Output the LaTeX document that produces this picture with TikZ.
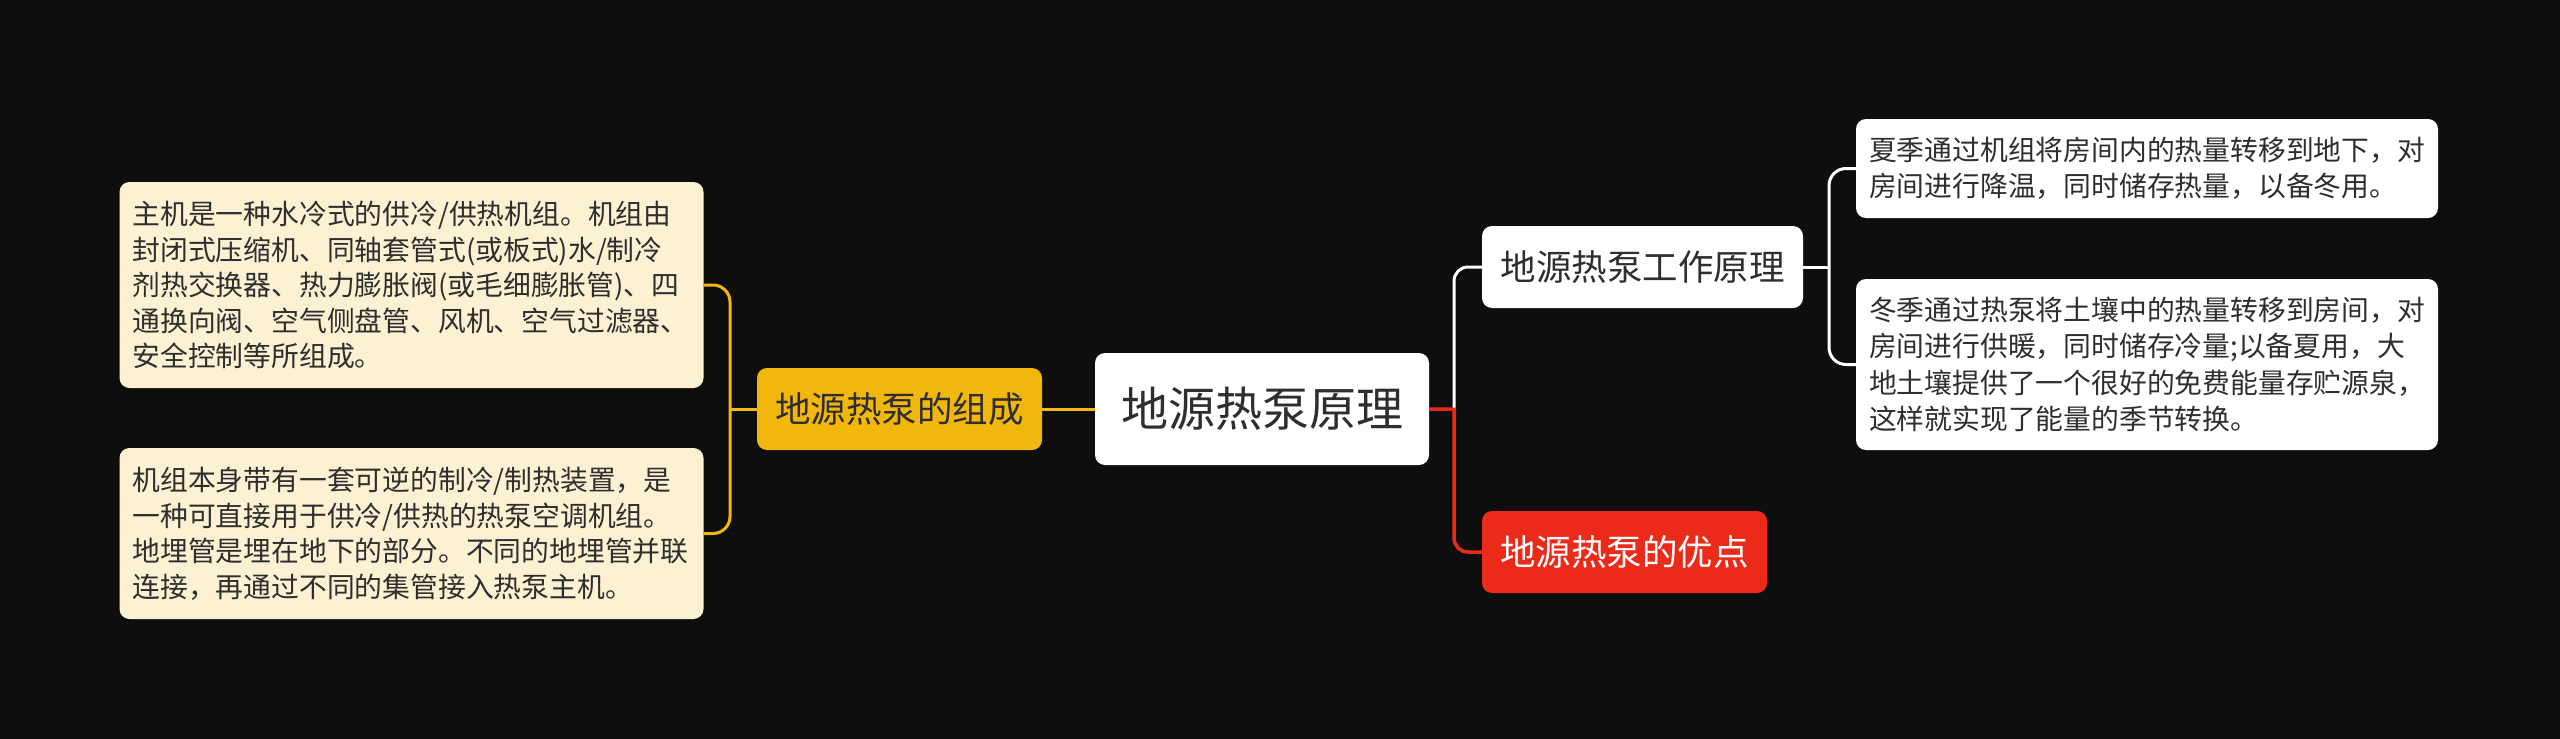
\documentclass[tikz,border=0pt]{standalone}
\usepackage{fontspec}
\setmainfont{Noto Sans CJK SC}
\definecolor{bgc}{HTML}{0E0E0E}
\definecolor{yel}{HTML}{F2B70D}
\definecolor{lyel}{HTML}{FCF1D2}
\definecolor{redc}{HTML}{EC2A1A}
\definecolor{txt}{HTML}{2E2E2E}
\begin{document}
\begin{tikzpicture}[x=1pt,y=-1pt,
  base/.style={rounded corners=10pt, inner sep=0pt, text=txt},
  leaf/.style={base, align=left, text width=558pt, inner xsep=13pt,
     font=\fontsize{27.8}{35.5}\selectfont},
  topic/.style={base, minimum height=82pt, font=\fontsize{35.5}{40}\selectfont},
  yline/.style={draw=yel, line width=3pt},
  wline/.style={draw=white, line width=3pt},
  rline/.style={draw=redc, line width=3.5pt}]
\fill[bgc] (0,0) rectangle (2560,739);
\useasboundingbox (0,0) rectangle (2560,739);

% nodes
\node[base, fill=white, minimum width=334pt, minimum height=112pt,
  font=\fontsize{47}{52}\selectfont] (root) at (1262,409) {地源热泵原理};
\node[topic, fill=yel, minimum width=285pt] (comp) at (899.5,409) {地源热泵的组成};
\node[topic, fill=white, minimum width=321pt] (work) at (1642.5,267) {地源热泵工作原理};
\node[topic, fill=redc, minimum width=285pt, text=white] (adv) at (1624.5,552) {地源热泵的优点};

\node[leaf, fill=lyel, minimum height=206pt] (tl) at (411.5,285) {主机是一种水冷式的供冷/供热机组。机组由\\封闭式压缩机、同轴套管式(或板式)水/制冷\\剂热交换器、热力膨胀阀(或毛细膨胀管)、四\\通换向阀、空气侧盘管、风机、空气过滤器、\\安全控制等所组成。};
\node[leaf, fill=lyel, minimum height=171pt] (bl) at (411.5,533.5) {机组本身带有一套可逆的制冷/制热装置，是\\一种可直接用于供冷/供热的热泵空调机组。\\地埋管是埋在地下的部分。不同的地埋管并联\\连接，再通过不同的集管接入热泵主机。};

\node[leaf, fill=white, text width=556pt, minimum height=99pt,
  font=\fontsize{27.8}{36.5}\selectfont] (tr) at (2147,168.5) {夏季通过机组将房间内的热量转移到地下，对\\房间进行降温，同时储存热量，以备冬用。};
\node[leaf, fill=white, text width=556pt, minimum height=171pt,
  font=\fontsize{27.8}{36.5}\selectfont] (br) at (2147,364.5) {冬季通过热泵将土壤中的热量转移到房间，对\\房间进行供暖，同时储存冷量;以备夏用，大\\地土壤提供了一个很好的免费能量存贮源泉，\\这样就实现了能量的季节转换。};

% junction coordinates
\coordinate (jl) at (730,409);
\coordinate (jr) at (1454,409);
\coordinate (jw) at (1829,267);

% connectors
\draw[yline] (root.west) -- (comp.east);
\draw[yline] (comp.west) -- (jl);
\draw[yline, rounded corners=17pt] (tl.east) -- (tl.east -| jl) -- (bl.east -| jl) -- (bl.east);

\draw[rline] (root.east) -- (jr) [rounded corners=14pt] -- (jr |- adv.west) -- (adv.west);
\draw[wline, rounded corners=14pt] ([yshift=1.5pt]jr) -- (jr |- work.west) -- (work.west);

\draw[wline] (work.east) -- (jw);
\draw[wline, rounded corners=17pt] (tr.west) -- (tr.west -| jw) -- (br.west -| jw) -- (br.west);
\end{tikzpicture}
\end{document}
